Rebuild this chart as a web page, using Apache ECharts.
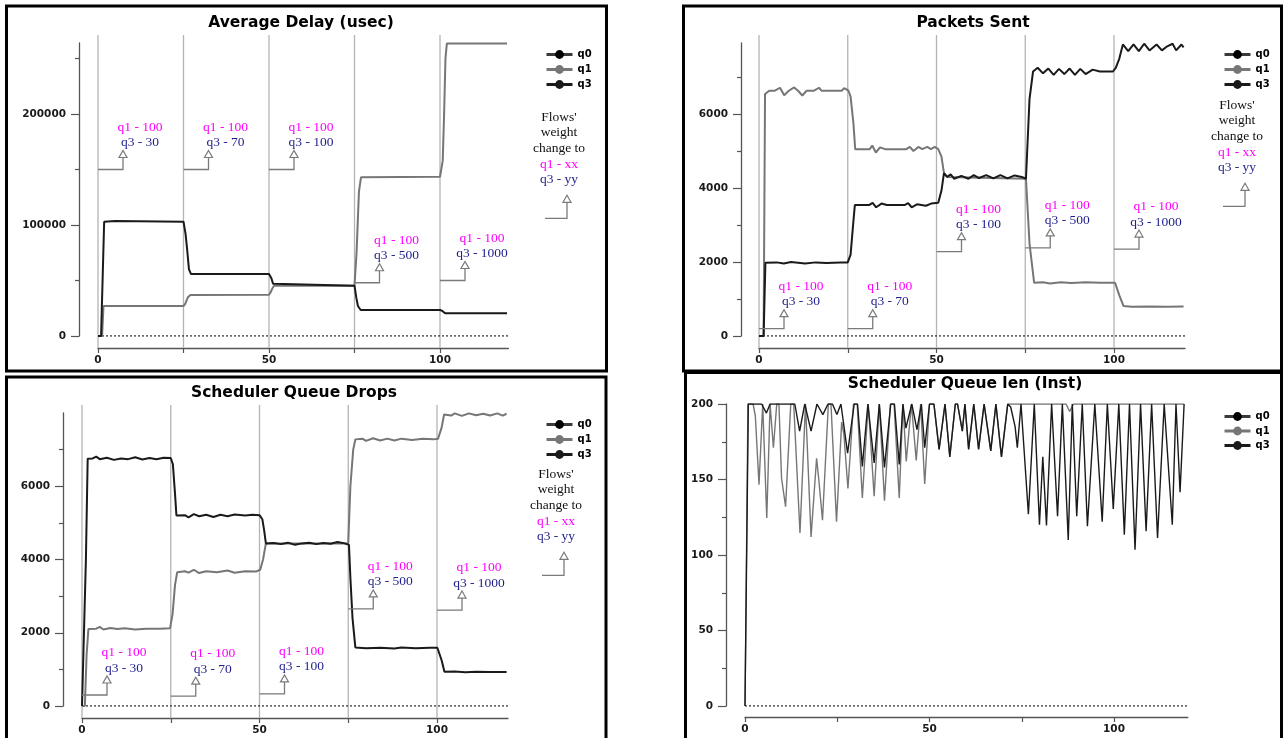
<!DOCTYPE html>
<html><head><meta charset="utf-8">
<script src="https://cdn.jsdelivr.net/npm/echarts@6/dist/echarts.min.js"></script>
<style>html,body{margin:0;padding:0;background:#fff;}#c{width:1285px;height:738px;}</style>
</head><body><div id="c"></div>
<script>
// ---------- data ----------
const seriesNames = ['q0', 'q1', 'q3'];
const changeTimes = [0, 25, 50, 75, 100];
const q1Weights = [100, 100, 100, 100, 100];
const q3Weights = [30, 70, 100, 500, 1000];
const xLabelValues = [0, 50, 100];
const xTickValues = [0, 25, 50, 75, 100];

// Average Delay (usec)
const delayTicks = [0, 100000, 200000];
const delayMinor = [50000, 150000, 250000];
const delayQ0 = [[0,0],[120,0]];
const delayQ1 = [[0,0],[1.2,0],[1.6,27000],[25,27000],[25.5,29000],[26.3,35000],[27,37000],[50,37200],[50.5,39500],[51,43000],[51.5,45300],[75,45300],[75.6,75000],[76.3,130000],[76.9,143000],[100,143500],[100.8,158000],[101.2,200000],[101.6,250000],[102,263500],[119.6,263500]];
const delayQ3 = [[0,0],[0.9,0],[1.8,103000],[5,103600],[25,103000],[25.6,92000],[26,80000],[26.6,60000],[27.2,55800],[50,55800],[50.7,52000],[51.2,47000],[51.6,45300],[75,45300],[75.5,35000],[76,27000],[76.8,23400],[100,23400],[100.6,22800],[101.5,20500],[102.2,20400],[119.6,20400]];
const delayNoteY = [150000, 150000, 150000, 48000, 50000];

// Packets Sent
const sentTicks = [0, 2000, 4000, 6000];
const sentMinor = [1000, 3000, 5000, 7000];
const sentQ0 = [[0,0],[120,0]];
const sentQ1 = [[0,0],[1.3,0],[1.7,6540],[2.9,6630],[4.5,6630],[5.9,6710],[7.1,6510],[8.4,6630],[9.9,6720],[11,6630],[12.2,6500],[13.4,6630],[15.5,6630],[16.9,6710],[17.6,6630],[23.3,6630],[24,6700],[25.2,6630],[25.8,6470],[26.6,5750],[27.1,5050],[31.2,5050],[31.9,5150],[32.9,4960],[34.1,5100],[35.5,5050],[41.5,5050],[42.5,5110],[43.5,5000],[44.9,5110],[46,5050],[47.4,5110],[48.4,5050],[49.5,5110],[50.5,5050],[51.4,4850],[52.1,4400],[53,4300],[75.2,4250],[76.2,2500],[77.5,1440],[80,1450],[82,1420],[85,1450],[88,1430],[92,1450],[96,1440],[100.3,1440],[101.5,1100],[102.7,810],[105,790],[110,800],[115,790],[119.6,800]];
const sentQ3 = [[0,0],[1.3,0],[1.8,1980],[5,1990],[7,1960],[9,2000],[13,1960],[16,1990],[19,1970],[23,1990],[25,1990],[25.8,2200],[26.5,3000],[27,3540],[31,3540],[32,3600],[33,3480],[34.5,3580],[36,3540],[41,3540],[42,3590],[43,3480],[44.5,3560],[47,3520],[48.5,3580],[50.5,3600],[51.4,3930],[52.1,4400],[53,4300],[54,4370],[55,4250],[57,4330],[59,4250],[60.5,4350],[62,4270],[64,4350],[66,4260],[68,4350],[70,4260],[72,4340],[74,4300],[75.2,4250],[76.2,6400],[77.2,7150],[78.5,7250],[80,7100],[81.5,7230],[83,7060],[84.5,7220],[86,7080],[87.5,7230],[89,7060],[90.5,7220],[92,7080],[94,7200],[96,7150],[99.7,7150],[100.5,7250],[101.5,7500],[102.5,7880],[104,7700],[105.5,7880],[107,7700],[108.5,7900],[110,7720],[112,7880],[113.5,7720],[115,7830],[116.5,7900],[117.5,7720],[119,7880],[119.6,7800]];
const sentNoteY = [200, 200, 2280, 2380, 2350];

// Scheduler Queue Drops
const dropTicks = [0, 2000, 4000, 6000];
const dropMinor = [1000, 3000, 5000, 7000];
const dropQ0 = [[0,0],[120,0]];
const dropQ1 = [[0,0],[0.8,0],[1.3,1400],[1.8,2100],[4,2110],[5,2160],[6,2090],[8,2130],[10,2100],[12,2120],[15,2090],[18,2110],[22,2110],[24.8,2120],[25.5,2500],[26.2,3300],[26.8,3650],[29,3680],[30,3640],[31.5,3720],[33,3630],[35,3680],[38,3650],[41,3700],[43,3640],[46,3680],[49,3670],[50.2,3720],[51,4000],[51.8,4440],[75,4440],[75.6,6000],[76.4,7000],[77,7280],[79,7300],[80,7240],[82,7310],[84,7250],[86,7300],[88,7250],[90,7300],[93,7260],[96,7300],[99,7280],[100.3,7300],[101.3,7600],[102,7960],[104,7930],[105,7990],[107,7920],[109,7990],[111,7940],[113,7980],[115,7930],[117,7990],[118.5,7930],[119.6,7980]];
const dropQ3 = [[0,0],[0.5,0],[1.1,4000],[1.6,6750],[3,6760],[4,6810],[5,6740],[7,6780],[9,6720],[11,6760],[13,6740],[15,6790],[17,6730],[19,6770],[21,6740],[23,6780],[25,6770],[25.6,6600],[26.2,5800],[26.6,5200],[29,5210],[30,5150],[31.5,5240],[33,5180],[35,5220],[37,5160],[39,5220],[41,5180],[43,5230],[46,5200],[48,5220],[50,5210],[50.8,5100],[51.3,4800],[51.8,4440],[54,4450],[56,4420],[58,4460],[60,4400],[62,4440],[64,4460],[66,4420],[68,4450],[70,4430],[72,4480],[74,4440],[75.2,4400],[75.6,3500],[76.2,2400],[77,1600],[80,1580],[84,1590],[88,1570],[90,1600],[94,1580],[98,1590],[100.1,1590],[101.3,1250],[102.1,935],[105,940],[108,920],[111,935],[115,925],[119.6,930]];
const dropNoteY = [300, 270, 330, 2650, 2620];

// Scheduler Queue len (Inst)
const qlenTicks = [0, 50, 100, 150, 200];
const qlenMinor = [25, 75, 125, 175];
const qlenQ0 = [[0,0],[120,0]];
const qlenQ1 = [[0,0],[0.4,0],[0.8,200],[2.2,200],[2.8,192],[3.8,146.6],[4.8,200],[5.9,124.5],[6.8,200],[7.7,171],[8.6,200],[9.2,200],[9.9,151],[11,132],[12.4,200],[13.2,200],[14.9,114.6],[16.4,200],[17.9,112],[19.4,164],[20,150],[21,123],[22.6,200],[23.3,200],[24.8,122],[26.2,188],[26.8,180],[27.9,144],[29.4,200],[30.4,200],[31.8,137.7],[33.4,200],[35,139],[36.4,200],[37.8,136],[39.4,200],[40.4,200],[41.8,137.7],[42.8,200],[43.7,162],[45.1,200],[46.4,162.7],[47.6,200],[48.7,147],[50,200],[51.2,200],[52.6,170],[54.2,200],[55.5,165],[57,200],[57.6,200],[58.9,182],[59.6,200],[60.6,170],[62,200],[63.3,170],[64.8,200],[66.6,169],[68,200],[69.5,165],[71.2,200],[87,200],[88,195],[89,200],[119,200]];
const qlenQ3 = [[0,0],[0.5,0],[0.9,200],[4.5,200],[5.8,194],[6.8,200],[13.5,200],[14.8,182],[16.2,200],[17.9,182],[19.5,200],[20,200],[21.1,193],[22.5,200],[23.7,200],[24.9,193],[26,200],[27.8,167.5],[29.6,200],[30.5,200],[31.8,158.7],[33.3,200],[35,161],[36.4,200],[37.8,158],[39.5,200],[40.5,200],[41.8,160],[42.8,200],[43.6,184],[45.2,200],[46.6,183],[47.8,200],[48.7,171],[50,200],[51.2,200],[52.6,170],[54.2,200],[55.5,165],[57,200],[57.6,200],[58.9,182],[59.6,200],[60.6,170],[62,200],[63.3,170],[64.8,200],[66.6,169],[68,200],[69.5,165],[71.2,200],[72,198],[73.2,185],[73.8,171],[74.8,200],[76.8,127],[78.4,200],[79.8,120],[80.7,165],[81.7,119.6],[83.1,200],[84.7,125.7],[86,200],[87.6,110],[88.7,200],[89.9,125.7],[91.4,200],[92.8,119],[94.8,200],[96.8,122],[98.2,200],[99.8,130.5],[101.3,200],[102.8,113.5],[104.2,200],[105.7,103.5],[107.2,200],[108.7,115.8],[110.2,200],[111.8,111.3],[113.6,200],[115.8,120],[116.8,200],[117.9,141.5],[119,200]];

// ---------- layout (not data) ----------
const panels = [
  {title:'Average Delay (usec)', tx:301, ty:23, box:[6.5,6,600,365], grid:{left:98,top:43,width:410.4,height:293}, yMax:264000, yOff:19, xOff:12, legend:[540,44.5,5], flows:[559,117], series:[delayQ0,delayQ1,delayQ3], ticks:delayTicks, minor:delayMinor, notes:delayNoteY, lw:2},
  {title:'Packets Sent', tx:973, ty:23, box:[683.5,6,598,365], grid:{left:759,top:43,width:426,height:293}, yMax:7920, yOff:18, xOff:12, legend:[1218,44.5,5], flows:[1237,105], series:[sentQ0,sentQ1,sentQ3], ticks:sentTicks, minor:sentMinor, notes:sentNoteY, lw:2},
  {title:'Scheduler Queue Drops', tx:294, ty:393, box:[6.5,377,599.5,380], grid:{left:82,top:413,width:426,height:293}, yMax:8000, yOff:19, xOff:12, legend:[540,414.5,5], flows:[556,474], series:[dropQ0,dropQ1,dropQ3], ticks:dropTicks, minor:dropMinor, notes:dropNoteY, lw:2},
  {title:'Scheduler Queue len (Inst)', tx:965, ty:384, box:[685.5,372.5,596,380], grid:{left:745,top:404,width:442.8,height:302}, yMax:200, yOff:19, xOff:11, legend:[1218,406.5,4.5], flows:null, series:[qlenQ0,qlenQ1,qlenQ3], ticks:qlenTicks, minor:qlenMinor, notes:null, lw:1.4}
];

const AX = '#555';
const plain = v => String(v);
const labelFont = {fontSize:10.5, fontWeight:'bold', fontFamily:'"DejaVu Sans", Verdana, sans-serif', color:'#1a1a1a', formatter:plain};
const serif = '13.5px "Liberation Serif", "Times New Roman", serif';
const MAG = '#ff00ff', NAVY = '#1f1f8c';

const option = {backgroundColor:'#fff', animation:false, grid:[], xAxis:[], yAxis:[], series:[], legend:[], graphic:[]};

panels.forEach((p, i) => {
  option.grid.push(Object.assign({containLabel:false}, p.grid));
  option.xAxis.push({type:'value', gridIndex:i, position:'bottom', min:0, max:120, offset:p.xOff,
    axisLine:{show:true, onZero:false, lineStyle:{color:AX, width:1.3}},
    axisTick:{show:true, length:5, customValues:xTickValues, lineStyle:{color:AX, width:1.2}},
    axisLabel:Object.assign({margin:7, customValues:xLabelValues}, labelFont),
    splitLine:{show:false}});
  option.yAxis[i] = {type:'value', gridIndex:i, position:'left', min:0, max:p.yMax, offset:p.yOff,
    axisLine:{show:true, onZero:false, lineStyle:{color:AX, width:1.3}},
    axisTick:{show:true, length:8, customValues:p.ticks, lineStyle:{color:AX, width:1.2}},
    axisLabel:Object.assign({margin:13, customValues:p.ticks}, labelFont),
    splitLine:{show:false}};
});
panels.forEach((p, i) => {
  option.yAxis[4 + i] = {type:'value', gridIndex:i, position:'left', min:0, max:p.yMax, offset:p.yOff,
    axisLine:{show:false, onZero:false}, axisLabel:{show:false}, splitLine:{show:false},
    axisTick:{show:true, length:4, customValues:p.minor, lineStyle:{color:AX, width:1.2}}};
});

panels.forEach((p, i) => {
  const yMax = p.yMax;
  if (p.notes) {
    option.series.push({type:'custom', name:'lines'+i, xAxisIndex:i, yAxisIndex:i, z:1, silent:true, clip:false,
      data: changeTimes.map(t => [t, 0]),
      renderItem: (params, api) => {
        const top = api.coord([api.value(0), yMax]);
        const bot = api.coord([api.value(0), 0]);
        return {type:'line', shape:{x1:top[0], y1:top[1]-8, x2:bot[0], y2:bot[1]+p.xOff}, style:{stroke:'#b4b4b4', lineWidth:1.3}};
      }});
  }
  const colors = ['#000', '#767676', '#1a1a1a'];
  p.series.forEach((d, k) => {
    const s = {type:'line', name:seriesNames[k], xAxisIndex:i, yAxisIndex:i, data:d, symbol:'circle', showSymbol:false, silent:true, z:3+k,
      itemStyle:{color: colors[k]},
      lineStyle:{color: k === 0 ? '#3a3a3a' : colors[k], width: k === 0 ? 1.5 : p.lw}};
    if (k === 0) s.lineStyle.type = [2, 2];
    option.series.push(s);
  });
  if (p.notes) {
    option.series.push({type:'custom', name:'notes'+i, xAxisIndex:i, yAxisIndex:i, z:8, silent:true, clip:false,
      data: changeTimes.map((t, k) => [t, p.notes[k]]),
      renderItem: (params, api) => {
        const k = params.dataIndex;
        const c = api.coord([api.value(0), api.value(1)]);
        const x0 = c[0], y0 = c[1], ax = x0 + 25;
        return {type:'group', children:[
          {type:'polyline', shape:{points:[[x0,y0],[ax,y0],[ax,y0-12]]}, style:{stroke:'#7a7a7a', lineWidth:1.3, fill:null}},
          {type:'polygon', shape:{points:[[ax-4,y0-12],[ax+4,y0-12],[ax,y0-19]]}, style:{stroke:'#7a7a7a', lineWidth:1.2, fill:'#fff'}},
          {type:'text', style:{text:'q1 - ' + q1Weights[k], x:ax+17, y:y0-42.5, font:serif, fill:MAG, textAlign:'center', align:'center', textVerticalAlign:'middle', verticalAlign:'middle'}},
          {type:'text', style:{text:'q3 - ' + q3Weights[k], x:ax+17, y:y0-27, font:serif, fill:NAVY, textAlign:'center', align:'center', textVerticalAlign:'middle', verticalAlign:'middle'}}
        ]};
      }});
  }
  option.legend.push({orient:'vertical', left:p.legend[0], top:p.legend[1], itemWidth:26, itemHeight:11, itemGap:p.legend[2],
    data:seriesNames, selectedMode:false, lineStyle:{width:3, type:'solid'},
    textStyle:{fontSize:10, fontWeight:'bold', fontFamily:'"DejaVu Sans", Verdana, sans-serif', color:'#000'}});

  // frame
  option.graphic.push({type:'rect', silent:true, z:0, shape:{x:p.box[0], y:p.box[1], width:p.box[2], height:p.box[3]}, style:{fill:'none', stroke:'#000', lineWidth:3}});
  // title
  option.graphic.push({type:'text', silent:true, z:10, style:{text:p.title, x:p.tx, y:p.ty, font:'bold 15.5px "DejaVu Sans", Verdana, sans-serif', fill:'#000', textAlign:'center', align:'center', textVerticalAlign:'middle', verticalAlign:'middle'}});
  // flows' weight explanation
  if (p.flows) {
    const cx = p.flows[0], fy = p.flows[1], lh = 15.7;
    const lines = [["Flows'", '#111'], ['weight', '#111'], ['change to', '#111'], ['q1 - xx', MAG], ['q3 - yy', NAVY]];
    lines.forEach((ln, j) => {
      option.graphic.push({type:'text', silent:true, z:10, style:{text:ln[0], x:cx, y:fy + j*lh, font:serif, fill:ln[1], textAlign:'center', align:'center', textVerticalAlign:'middle', verticalAlign:'middle'}});
    });
    const vx = cx + 8, tip = fy + 4*lh + 15.5, hy = tip + 23;
    option.graphic.push({type:'polyline', silent:true, z:10, shape:{points:[[vx-22,hy],[vx,hy],[vx,tip+7]]}, style:{stroke:'#7a7a7a', lineWidth:1.3, fill:null}});
    option.graphic.push({type:'polygon', silent:true, z:10, shape:{points:[[vx-4,tip+7],[vx+4,tip+7],[vx,tip]]}, style:{stroke:'#7a7a7a', lineWidth:1.2, fill:'#fff'}});
  }
});

const chart = echarts.init(document.getElementById('c'), null, {renderer:'canvas', width:1285, height:738});
chart.setOption(option);
</script></body></html>
